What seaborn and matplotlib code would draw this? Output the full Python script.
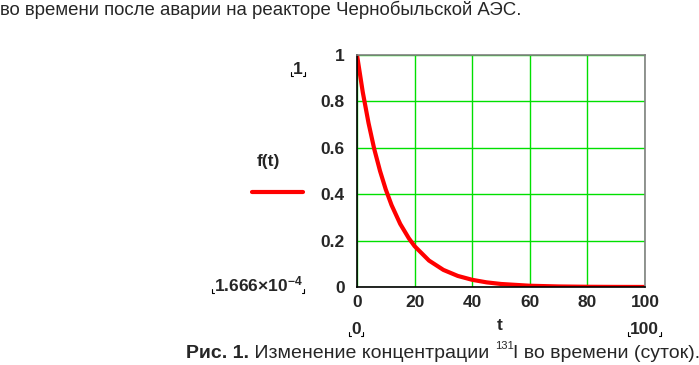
import matplotlib
matplotlib.use("Agg")
import matplotlib.pyplot as plt
import numpy as np
import pandas as pd
import seaborn as sns

# values of f(t) (relative 131I concentration)
t_days = [0, 2, 4, 6, 8, 10, 12, 15, 18, 20, 25, 30, 35, 40, 45, 50, 60, 70, 80, 90, 100]
f_vals = [1.0, 0.84, 0.707, 0.594, 0.5, 0.42, 0.353, 0.272, 0.21, 0.176, 0.114,
          0.0737, 0.0477, 0.031, 0.02, 0.013, 0.0054, 0.0023, 0.00095, 0.0004, 0.000167]
x_ticks = [0, 20, 40, 60, 80, 100]
y_ticks = [0, 0.2, 0.4, 0.6, 0.8, 1]
y_tick_labels = ["0", "0.2", "0.4", "0.6", "0.8", "1"]

df = pd.DataFrame({"t": t_days, "f": f_vals})

sns.set_style("white")
plt.rcParams["font.family"] = ["Liberation Sans", "DejaVu Sans"]
plt.rcParams["mathtext.fontset"] = "custom"
plt.rcParams["mathtext.rm"] = "Liberation Sans:bold"
plt.rcParams["mathtext.default"] = "rm"

fig = plt.figure(figsize=(6.99, 3.65), dpi=100)
ax = fig.add_axes([357 / 699, 1 - 287 / 365, 288 / 699, 232 / 365])

sns.lineplot(data=df, x="t", y="f", ax=ax, color="#ff0000", linewidth=3)
ax.set_xlim(0, 100)
ax.set_ylim(0, 1)
ax.set_xticks(x_ticks)
ax.set_yticks(y_ticks)
ax.set_yticklabels(y_tick_labels)
ax.set_xlabel("")
ax.set_ylabel("")
ax.grid(True, color="#00e000", linewidth=1)
ax.set_axisbelow(True)
ax.tick_params(length=0, labelsize=12.5)
ax.tick_params(axis="y", pad=9)
ax.tick_params(axis="x", pad=6)
for lab in ax.get_xticklabels() + ax.get_yticklabels():
    lab.set_fontweight("bold")
ax.spines["left"].set_color("black")
ax.spines["bottom"].set_color("black")
ax.spines["top"].set_color("#808080")
ax.spines["right"].set_color("#808080")
for s in ax.spines.values():
    s.set_linewidth(1.2)

def px(x, y):
    return x / 699, 1 - y / 365

fig.canvas.draw()
r = fig.canvas.get_renderer()
W, H = fig.bbox.width, fig.bbox.height

def placeholder(x, y, txt, fs=12.5):
    tt = fig.text(*px(x, y), txt, fontsize=fs, fontweight="bold", va="center", ha="center")
    bb = tt.get_window_extent(renderer=r)
    x1, x2 = (bb.x0 - 2) / W, (bb.x1 + 2) / W
    yb = (bb.y0 + 1) / H
    h, w = 4 / H, 2 / W
    for xs, xe in [(x1, x1 + w), (x2, x2 - w)]:
        fig.add_artist(plt.Line2D([xs, xs, xe], [yb + h, yb, yb], color="black", linewidth=0.8))

# top text line
fig.text(*px(0, 10), "во времени после аварии на реакторе Чернобыльской АЭС.",
         fontsize=13.4, va="center", ha="left")

# legend
fig.text(*px(268, 162), "f(t)", fontsize=12.5, fontweight="bold", va="center", ha="center")
fig.add_artist(plt.Line2D([252 / 699, 303 / 699], [1 - 192 / 365] * 2, color="#ff0000", linewidth=3))

# Mathcad range placeholders
placeholder(298, 69, "1")
placeholder(258, 284, "1.666×10$^{-4}$")
placeholder(356, 329, "0")
placeholder(644, 329, "100")
fig.text(*px(500, 325), "t", fontsize=12.5, fontweight="bold", va="center", ha="center")

# caption with mixed styles
x0, yc = px(186, 354)
parts = [("Рис. 1.", "bold", 14, 0),
         (" Изменение концентрации ", "normal", 14, 0),
         ("131", "normal", 8, 8),
         ("I во времени (суток).", "normal", 14, 0)]
xcur = x0
for txt, w, fs, dy in parts:
    tt = fig.text(xcur, yc + dy / 365, txt, fontsize=fs, fontweight=w, va="center", ha="left")
    bb = tt.get_window_extent(renderer=r)
    xcur += bb.width / W

fig.savefig("out.png", dpi=100)
